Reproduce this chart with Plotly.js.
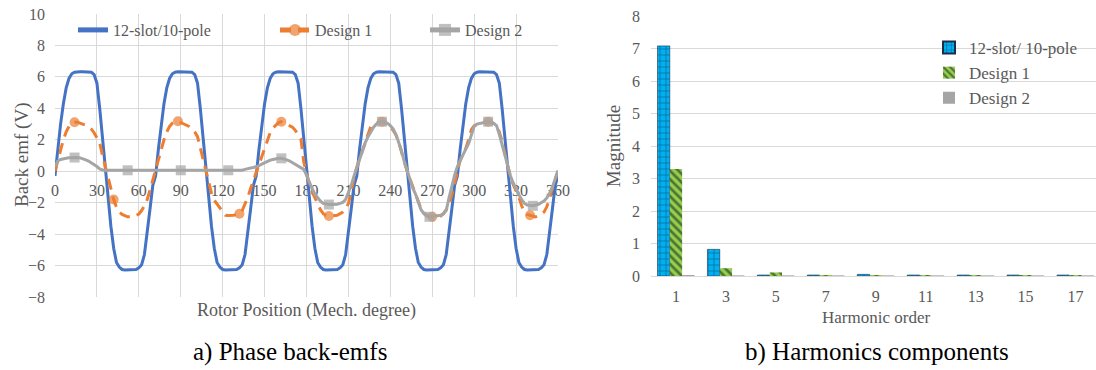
<!DOCTYPE html>
<html>
<head>
<meta charset="utf-8">
<script src="https://cdn.plot.ly/plotly-3.0.1.min.js"></script>
<style>
  html, body { margin: 0; padding: 0; background: #ffffff; }
  #chart { width: 1096px; height: 370px; }
</style>
</head>
<body>
<div id="chart"></div>
<script>
// ---------- Left chart: phase back-emfs ----------
const rotorPosition = [
  0, 2, 4, 6, 8, 10, 12, 14, 16, 18, 20, 22, 24, 26, 28, 30, 32, 34,
  36, 38, 40, 42, 44, 46, 48, 50, 52, 54, 56, 58, 60, 62, 64, 66, 68, 70,
  72, 74, 76, 78, 80, 82, 84, 86, 88, 90, 92, 94, 96, 98, 100, 102, 104, 106,
  108, 110, 112, 114, 116, 118, 120, 122, 124, 126, 128, 130, 132, 134, 136, 138, 140, 142,
  144, 146, 148, 150, 152, 154, 156, 158, 160, 162, 164, 166, 168, 170, 172, 174, 176, 178,
  180, 182, 184, 186, 188, 190, 192, 194, 196, 198, 200, 202, 204, 206, 208, 210, 212, 214,
  216, 218, 220, 222, 224, 226, 228, 230, 232, 234, 236, 238, 240, 242, 244, 246, 248, 250,
  252, 254, 256, 258, 260, 262, 264, 266, 268, 270, 272, 274, 276, 278, 280, 282, 284, 286,
  288, 290, 292, 294, 296, 298, 300, 302, 304, 306, 308, 310, 312, 314, 316, 318, 320, 322,
  324, 326, 328, 330, 332, 334, 336, 338, 340, 342, 344, 346, 348, 350, 352, 354, 356, 358,
  360
];

const emf12s10p = [
  -0.3, 1.4, 3.0, 4.3, 5.3, 5.9, 6.2, 6.3, 6.33, 6.33, 6.33, 6.33, 6.33, 6.3, 6.15, 5.6, 4.0, 2.1,
  0.1, -1.8, -3.5, -4.9, -5.8, -6.1, -6.25, -6.28, -6.28, -6.28, -6.28, -6.25, -6.15, -5.95, -5.3, -4.0, -2.4, -0.9,
  -0.3, 1.4, 3.0, 4.3, 5.3, 5.9, 6.2, 6.3, 6.33, 6.33, 6.33, 6.33, 6.33, 6.3, 6.15, 5.6, 4.0, 2.1,
  0.1, -1.8, -3.5, -4.9, -5.8, -6.1, -6.25, -6.28, -6.28, -6.28, -6.28, -6.25, -6.15, -5.95, -5.3, -4.0, -2.4, -0.9,
  -0.3, 1.4, 3.0, 4.3, 5.3, 5.9, 6.2, 6.3, 6.33, 6.33, 6.33, 6.33, 6.33, 6.3, 6.15, 5.6, 4.0, 2.1,
  0.1, -1.8, -3.5, -4.9, -5.8, -6.1, -6.25, -6.28, -6.28, -6.28, -6.28, -6.25, -6.15, -5.95, -5.3, -4.0, -2.4, -0.9,
  -0.3, 1.4, 3.0, 4.3, 5.3, 5.9, 6.2, 6.3, 6.33, 6.33, 6.33, 6.33, 6.33, 6.3, 6.15, 5.6, 4.0, 2.1,
  0.1, -1.8, -3.5, -4.9, -5.8, -6.1, -6.25, -6.28, -6.28, -6.28, -6.28, -6.25, -6.15, -5.95, -5.3, -4.0, -2.4, -0.9,
  -0.3, 1.4, 3.0, 4.3, 5.3, 5.9, 6.2, 6.3, 6.33, 6.33, 6.33, 6.33, 6.33, 6.3, 6.15, 5.6, 4.0, 2.1,
  0.1, -1.8, -3.5, -4.9, -5.8, -6.1, -6.25, -6.28, -6.28, -6.28, -6.28, -6.25, -6.15, -5.95, -5.3, -4.0, -2.4, -0.9,
  -0.3
];

const emfDesign1 = [
  0.0, 0.7, 1.4, 2.0, 2.5, 2.85, 3.05, 3.12, 3.12, 3.05, 3.0, 2.92, 2.8, 2.68, 2.45, 2.15, 1.8, 1.0,
  0.25, -0.5, -1.2, -1.8, -2.3, -2.6, -2.75, -2.85, -2.9, -2.9, -2.88, -2.82, -2.72, -2.5, -2.2, -1.8, -1.2, -0.55,
  0.05, 0.7, 1.4, 2.0, 2.5, 2.85, 3.05, 3.15, 3.18, 3.1, 3.0, 2.92, 2.85, 2.7, 2.5, 2.2, 1.5, 0.75,
  0.0, -0.75, -1.4, -1.85, -2.1, -2.3, -2.6, -2.8, -2.82, -2.82, -2.8, -2.75, -2.7, -2.5, -2.1, -1.65, -1.1, -0.6,
  0.0, 0.5, 1.0, 1.5, 2.0, 2.45, 2.75, 2.95, 3.1, 3.15, 3.05, 2.98, 2.9, 2.8, 2.6, 2.35, 2.05, 0.6,
  -0.15, -0.8, -1.3, -1.7, -2.0, -2.45, -2.7, -2.82, -2.85, -2.85, -2.82, -2.8, -2.72, -2.6, -2.4, -2.05, -1.3, -0.4,
  0.25, 0.8, 1.3, 1.9, 2.45, 2.85, 3.0, 3.08, 3.12, 3.15, 3.1, 3.0, 2.85, 2.6, 2.3, 1.85, 1.3, 0.6,
  0.0, -0.5, -1.0, -1.45, -2.0, -2.4, -2.65, -2.8, -2.88, -2.9, -2.9, -2.9, -2.85, -2.7, -2.45, -2.1, -1.5, -0.75,
  0.0, 0.7, 1.1, 1.45, 2.0, 2.65, 2.9, 3.0, 3.05, 3.1, 3.12, 3.15, 3.12, 3.0, 2.8, 2.5, 1.9, 1.15,
  0.4, -0.4, -0.85, -1.25, -1.65, -2.2, -2.6, -2.75, -2.8, -2.85, -2.9, -2.85, -2.75, -2.6, -2.25, -1.75, -1.05, -0.5,
  0.0
];

const emfDesign2 = [
  0.3, 0.65, 0.75, 0.8, 0.82, 0.85, 0.87, 0.87, 0.87, 0.85, 0.8, 0.72, 0.65, 0.55, 0.45, 0.3, 0.15, 0.07,
  0.06, 0.06, 0.06, 0.06, 0.06, 0.06, 0.06, 0.06, 0.06, 0.06, 0.06, 0.06, 0.06, 0.06, 0.06, 0.06, 0.06, 0.06,
  0.06, 0.06, 0.06, 0.06, 0.06, 0.06, 0.06, 0.06, 0.06, 0.06, 0.06, 0.06, 0.06, 0.06, 0.06, 0.06, 0.06, 0.06,
  0.06, 0.06, 0.06, 0.06, 0.06, 0.06, 0.06, 0.06, 0.06, 0.06, 0.06, 0.06, 0.06, 0.06, 0.12, 0.18, 0.2, 0.24,
  0.28, 0.35, 0.45, 0.55, 0.62, 0.7, 0.75, 0.8, 0.82, 0.82, 0.78, 0.72, 0.65, 0.55, 0.45, 0.32, 0.25, 0.12,
  -0.25, -0.7, -1.1, -1.45, -1.7, -1.9, -2.05, -2.1, -2.12, -2.12, -2.12, -2.1, -2.05, -1.98, -1.8, -1.4, -0.9, -0.3,
  0.25, 0.8, 1.35, 1.8, 2.2, 2.5, 2.8, 3.0, 3.1, 3.15, 3.12, 3.05, 2.9, 2.7, 2.35, 1.85, 1.3, 0.6,
  0.0, -0.55, -1.05, -1.45, -2.0, -2.45, -2.7, -2.85, -2.9, -2.88, -2.85, -2.82, -2.8, -2.7, -2.5, -1.7, -0.9, -0.25,
  0.3, 0.7, 1.1, 1.4, 1.75, 2.3, 2.85, 3.0, 3.05, 3.1, 3.12, 3.15, 3.15, 3.05, 2.9, 2.35, 1.65, 1.0,
  0.3, -0.3, -0.75, -1.15, -1.5, -1.8, -2.05, -2.15, -2.2, -2.2, -2.15, -2.1, -2.0, -1.9, -1.7, -1.4, -1.0, -0.5,
  0.05
];

// rotor positions where the original chart shows a marker on each design curve
const design1MarkerAt = [14, 42, 88, 132, 162, 196, 234, 270, 310, 340];
const design2MarkerAt = [14, 52, 90, 124, 162, 196, 234, 268, 310, 342];

const positionTicks = [0, 30, 60, 90, 120, 150, 180, 210, 240, 270, 300, 330, 360];
const emfTicks = [-8, -6, -4, -2, 0, 2, 4, 6, 8, 10];

// ---------- Right chart: harmonic components ----------
const harmonicOrder = ['1', '3', '5', '7', '9', '11', '13', '15', '17'];
const harm12s10p = [7.08, 0.82, 0.03, 0.03, 0.05, 0.03, 0.03, 0.03, 0.03];
const harmDesign1 = [3.29, 0.24, 0.11, 0.03, 0.03, 0.03, 0.03, 0.03, 0.03];
const harmDesign2 = [0.03, 0.02, 0.02, 0.02, 0.02, 0.02, 0.02, 0.02, 0.02];
const magnitudeTicks = [0, 1, 2, 3, 4, 5, 6, 7, 8];

// ---------- styling ----------
const W = 1096, H = 370;
const FONT = 'Liberation Serif, Times New Roman, Times, serif';
const GREY_TEXT = '#595959';
const GRID = '#d9d9d9';

const markerSizes = (marks, size) => rotorPosition.map(p => marks.includes(p) ? size : 0);

const legendBase = (xPx) => ({
  orientation: 'h',
  x: xPx / W, xanchor: 'left',
  y: 1 - 30 / H, yanchor: 'middle',
  bgcolor: 'rgba(0,0,0,0)',
  font: { family: FONT, size: 16, color: GREY_TEXT },
  itemsizing: 'constant'
});

const traces = [
  {
    // x tick labels of the left chart, drawn on the zero line
    x: positionTicks,
    y: positionTicks.map(() => 0),
    text: positionTicks.map(String),
    mode: 'markers+text',
    textposition: 'bottom center',
    textfont: { family: FONT, size: 16, color: GREY_TEXT },
    marker: { size: 19, color: 'rgba(0,0,0,0)' },
    cliponaxis: false,
    hoverinfo: 'skip',
    showlegend: false,
    xaxis: 'x', yaxis: 'y'
  },
  {
    x: rotorPosition, y: emf12s10p, name: '12-slot/10-pole',
    mode: 'lines',
    line: { color: '#4472c4', width: 3 },
    xaxis: 'x', yaxis: 'y', legend: 'legend'
  },
  {
    x: rotorPosition, y: emfDesign1, name: 'Design 1',
    mode: 'lines+markers',
    line: { color: '#ed7d31', width: 3, dash: '11px,7px' },
    marker: { symbol: 'circle', color: '#ed7d31', size: markerSizes(design1MarkerAt, 10), line: { width: 0 } },
    xaxis: 'x', yaxis: 'y', legend: 'legend3'
  },
  {
    x: rotorPosition, y: emfDesign2, name: 'Design 2',
    mode: 'lines+markers',
    line: { color: '#a5a5a5', width: 3 },
    marker: { symbol: 'square', color: '#a5a5a5', size: markerSizes(design2MarkerAt, 10), line: { width: 0 } },
    xaxis: 'x', yaxis: 'y', legend: 'legend4'
  },
  {
    type: 'bar', x: harmonicOrder, y: harm12s10p, name: '12-slot/ 10-pole',
    marker: {
      color: '#00b0f0',
      line: { width: 0.6, color: '#1f2d4d' },
      pattern: { shape: '+', fillmode: 'overlay', fgcolor: '#10213f', bgcolor: '#00b0f0', size: 6, solidity: 0.22 }
    },
    xaxis: 'x2', yaxis: 'y2', legend: 'legend2'
  },
  {
    type: 'bar', x: harmonicOrder, y: harmDesign1, name: 'Design 1',
    marker: {
      color: '#92d050',
      line: { width: 0 },
      pattern: { shape: '\\', fillmode: 'overlay', fgcolor: '#111111', bgcolor: '#92d050', size: 6, solidity: 0.45 }
    },
    xaxis: 'x2', yaxis: 'y2', legend: 'legend2'
  },
  {
    type: 'bar', x: harmonicOrder, y: harmDesign2, name: 'Design 2',
    marker: { color: '#a5a5a5', line: { width: 0 } },
    xaxis: 'x2', yaxis: 'y2', legend: 'legend2'
  }
];

const layout = {
  width: W, height: H,
  margin: { l: 0, r: 0, t: 0, b: 0 },
  paper_bgcolor: '#ffffff',
  plot_bgcolor: 'rgba(0,0,0,0)',
  font: { family: FONT, size: 16, color: GREY_TEXT },
  showlegend: true,
  barmode: 'group',
  bargap: 0.26,
  bargroupgap: 0,
  xaxis: {
    domain: [55 / W, 558 / W],
    range: [0, 360],
    tickvals: positionTicks,
    showticklabels: false,
    ticks: '',
    showgrid: true, gridcolor: GRID, gridwidth: 1,
    zeroline: false, showline: false,
    title: { text: 'Rotor Position (Mech. degree)', font: { family: FONT, size: 18, color: GREY_TEXT }, standoff: 6 },
    anchor: 'y'
  },
  yaxis: {
    domain: [(H - 297) / H, (H - 14) / H],
    range: [-8, 10],
    tickvals: emfTicks,
    ticks: '',
    ticklabelstandoff: 9,
    tickfont: { family: FONT, size: 16, color: GREY_TEXT },
    showgrid: true, gridcolor: GRID, gridwidth: 1,
    zeroline: true, zerolinecolor: GRID, zerolinewidth: 1,
    showline: false,
    anchor: 'x'
  },
  xaxis2: {
    domain: [651 / W, 1],
    type: 'category',
    range: [-0.5, 8.41],
    ticks: '',
    ticklabelstandoff: 6,
    tickfont: { family: FONT, size: 16, color: GREY_TEXT },
    showgrid: false,
    showline: true, linecolor: GRID, linewidth: 1,
    zeroline: false,
    anchor: 'y2'
  },
  yaxis2: {
    domain: [(H - 276) / H, (H - 16) / H],
    range: [0, 8],
    tickvals: magnitudeTicks,
    ticks: '',
    ticklabelstandoff: 10,
    tickfont: { family: FONT, size: 16, color: GREY_TEXT },
    showgrid: true, gridcolor: GRID, gridwidth: 1,
    zeroline: false, showline: false,
    title: { text: 'Magnitude', font: { family: FONT, size: 19, color: GREY_TEXT }, standoff: 6 },
    anchor: 'x2'
  },
  legend: legendBase(73),
  legend3: legendBase(275),
  legend4: legendBase(425),
  legend2: {
    orientation: 'v',
    x: 929 / W, xanchor: 'left',
    y: 1 - 30 / H, yanchor: 'top',
    bgcolor: 'rgba(0,0,0,0)',
    font: { family: FONT, size: 17, color: GREY_TEXT },
    itemsizing: 'constant'
  },
  annotations: [
    {
      // y-axis title of the left chart
      text: 'Back emf (V)', xref: 'paper', yref: 'paper',
      x: 22 / W, y: 1 - 155 / H, xanchor: 'center', yanchor: 'middle', textangle: -90,
      showarrow: false, font: { family: FONT, size: 19, color: GREY_TEXT }
    },
    {
      // x-axis title of the right chart
      text: 'Harmonic order', xref: 'paper', yref: 'paper',
      x: 876 / W, y: 1 - 317 / H, xanchor: 'center', yanchor: 'middle',
      showarrow: false, font: { family: FONT, size: 17, color: GREY_TEXT }
    },
    {
      text: 'a) Phase back-emfs', xref: 'paper', yref: 'paper',
      x: 290 / W, y: 1 - 352 / H, xanchor: 'center', yanchor: 'middle',
      showarrow: false, font: { family: FONT, size: 25, color: '#000000' }
    },
    {
      text: 'b) Harmonics components', xref: 'paper', yref: 'paper',
      x: 877 / W, y: 1 - 352 / H, xanchor: 'center', yanchor: 'middle',
      showarrow: false, font: { family: FONT, size: 25, color: '#000000' }
    }
  ]
};

Plotly.newPlot('chart', traces, layout, { displayModeBar: false, staticPlot: true });
</script>
</body>
</html>
